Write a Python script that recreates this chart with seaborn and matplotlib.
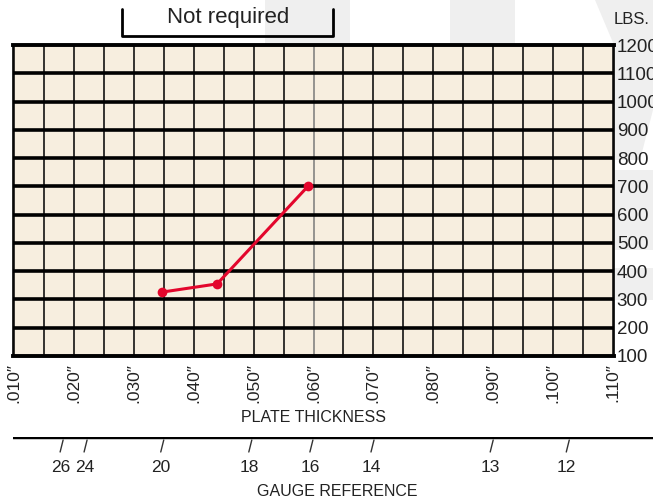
import matplotlib
matplotlib.use("Agg")
import matplotlib.pyplot as plt
from matplotlib.patches import Polygon
import seaborn as sns
import pandas as pd

# data
thickness = [0.0347, 0.0439, 0.0591]
load_lbs = [326, 355, 701]

x_ticks = [0.010, 0.020, 0.030, 0.040, 0.050, 0.060, 0.070, 0.080, 0.090, 0.100, 0.110]
x_tick_labels = [".010\u2033", ".020\u2033", ".030\u2033", ".040\u2033", ".050\u2033", ".060\u2033",
                 ".070\u2033", ".080\u2033", ".090\u2033", ".100\u2033", ".110\u2033"]
y_ticks = [100, 200, 300, 400, 500, 600, 700, 800, 900, 1000, 1100, 1200]

gauge_numbers = ["26", "24", "20", "18", "16", "14", "13", "12"]
gauge_thickness = [0.0180, 0.0220, 0.0348, 0.0495, 0.0597, 0.0699, 0.0898, 0.1025]

sns.set_style("white")
plt.rcParams["font.family"] = ["Liberation Sans", "DejaVu Sans"]

W, H = 653, 500
TXT = "#222222"
fig = plt.figure(figsize=(6.53, 5.0), dpi=100)

# faint watermark shapes in the background
wm = "#efefef"
for pts in [
    [(265, 0), (350, 0), (350, 45), (265, 45)],
    [(450, 0), (515, 0), (515, 45), (450, 45)],
    [(595, 0), (653, 0), (653, 110), (640, 160), (614, 160), (614, 45)],
    [(614, 170), (653, 170), (653, 250), (614, 250)],
    [(614, 268), (653, 268), (653, 300), (614, 300)],
]:
    fig.patches.append(Polygon([(x / W, 1 - y / H) for x, y in pts], closed=True,
                               transform=fig.transFigure, facecolor=wm, edgecolor="none", zorder=-10))

# main chart
ax = fig.add_axes([13 / W, 1 - 356 / H, 601 / W, 311 / H])
ax.set_facecolor("#f7eedf")

# grid: thin verticals every .005", heavy horizontals every 100 lbs
for i in range(21):
    xv = 0.010 + i * 0.005
    col = "#7a7a7a" if i == 10 else "black"
    ax.axvline(xv, color=col, lw=1.1, zorder=1)
for yv in y_ticks[1:-1]:
    ax.axhline(yv, color="black", lw=2.6, zorder=2)

df = pd.DataFrame({"thickness": thickness, "lbs": load_lbs})
sns.lineplot(data=df, x="thickness", y="lbs", ax=ax, color="#e3062c", lw=2.2,
             marker="o", markersize=7, markeredgewidth=0, zorder=5)
ax.set_xlim(0.0098, 0.1102)
ax.set_ylim(100, 1200)

for side, lw in [("top", 2.8), ("bottom", 2.8), ("left", 1.2), ("right", 1.2)]:
    ax.spines[side].set_visible(True)
    ax.spines[side].set_color("black")
    ax.spines[side].set_linewidth(lw)

ax.set_xticks(x_ticks)
ax.set_xticklabels(x_tick_labels, rotation=90, fontsize=12.5, color=TXT)
ax.yaxis.tick_right()
ax.set_yticks(y_ticks)
ax.set_yticklabels([str(v) for v in y_ticks], fontsize=13.5, color=TXT)
ax.tick_params(axis="x", length=0, pad=5)
ax.tick_params(axis="y", length=0, pad=2)
ax.set_xlabel("PLATE THICKNESS", fontsize=11.5, labelpad=5, color=TXT)
ax.set_ylabel("")

fig.text(614 / W, 1 - 19 / H, "LBS.", fontsize=12, ha="left", va="center", color=TXT)

# "Not required" bracket
fig.add_artist(plt.Line2D([122 / W, 122 / W, 333 / W, 333 / W],
                          [1 - 9 / H, 1 - 36 / H, 1 - 36 / H, 1 - 9 / H],
                          color="black", lw=2, transform=fig.transFigure))
fig.text(228 / W, 1 - 18 / H, "Not required", fontsize=16, ha="center", va="center", color=TXT)

# gauge reference scale
px = 0.01 / 59.9
x0 = 0.0098
x1 = x0 + 640 * px
gx = fig.add_axes([13 / W, 0.0, 640 / W, 63 / H])
gx.axis("off")
gx.plot([x0, x1], [63, 63], color="black", lw=3.2, solid_capstyle="butt")
for g, t in zip(gauge_numbers, gauge_thickness):
    gx.plot([t + 1 * px, t - 2 * px], [60, 48], color="#333333", lw=1)
    gx.text(t - 1.5 * px, 33, g, fontsize=12.5, ha="center", va="center", color=TXT)
gx.text(x0 + 324 * px, 9, "GAUGE REFERENCE", fontsize=11.5, ha="center", va="center", color=TXT)
gx.set_xlim(x0, x1)
gx.set_ylim(0, 63)

fig.savefig("out.png", dpi=100)
